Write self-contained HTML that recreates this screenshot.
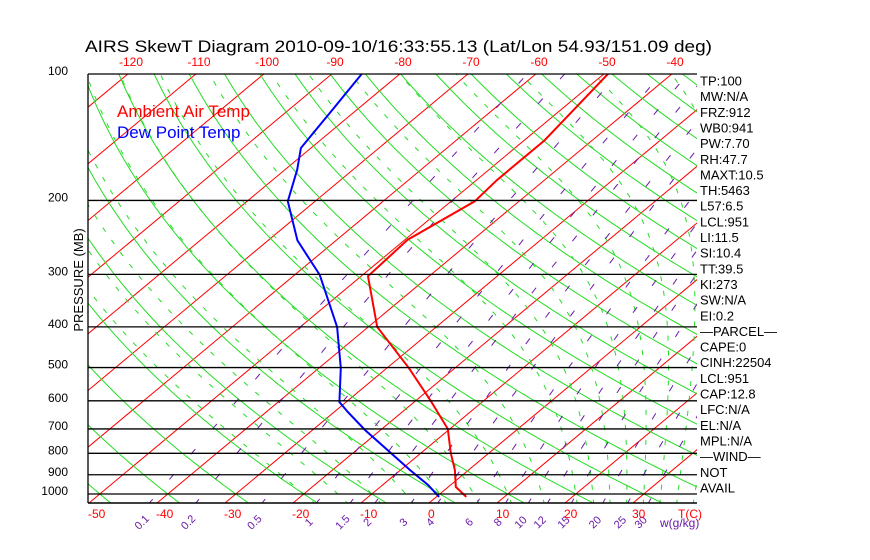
<!DOCTYPE html>
<html><head><meta charset="utf-8"><style>
html,body{margin:0;padding:0;background:#fff;}
svg{display:block;}
text{font-family:"Liberation Sans",sans-serif;}
</style></head><body>
<svg id="chart" width="870" height="560" viewBox="0 0 870 560" xmlns="http://www.w3.org/2000/svg">
<defs><clipPath id="plotclip"><rect x="88" y="74" width="609" height="429"/></clipPath></defs>
<text x="85" y="52" font-size="17" textLength="627" lengthAdjust="spacingAndGlyphs">AIRS SkewT Diagram 2010-09-10/16:33:55.13 (Lat/Lon 54.93/151.09 deg)</text>
<g id="bg" clip-path="url(#plotclip)"></g>
<g id="prof" clip-path="url(#plotclip)"></g>
<g id="axes"></g>
<text x="117" y="117" font-size="17" fill="#ff0000">Ambient Air Temp</text>
<text x="117" y="138" font-size="17" fill="#0000ff">Dew Point Temp</text>
<text transform="translate(83,280) rotate(-90)" text-anchor="middle" font-size="13">PRESSURE (MB)</text>
<g id="side"></g>
</svg>
<script>
const pressureLevels=[100,200,300,400,500,600,700,800,900,1000];
const bottomTempTicks=[-50,-40,-30,-20,-10,0,10,20,30];
const topTempTicks=[-120,-110,-100,-90,-80,-70,-60,-50,-40];
const mixingRatios=[0.1,0.2,0.5,1,1.5,2,3,4,6,8,10,12,15,20,25,30];
const mixingLabels=["0.1","0.2","0.5","1","1.5","2","3","4","6","8","10","12","15","20","25","30"];
const tempPressure=[1016,962,877,799,700,601,501,400,303,248,201,179,144,100];
const tempValues=[4.4,1.1,-2.0,-5.6,-10.3,-17.7,-26.8,-38.7,-49.0,-49.6,-46.5,-47.0,-47.0,-49.4];
const dewPressure=[1016,952,877,704,638,604,501,400,301,249,201,169,150,124,100];
const dewValues=[0.4,-3.3,-8.6,-22.3,-28.0,-31.0,-36.8,-44.6,-56.3,-65.7,-74.0,-78.2,-81.5,-83.4,-85.6];
const moistThetaW=[-20,-15,-10,-5,0,5,10,15,20,22.5,25,27.5,30,32.5,35,37.5,40];
const sideLabels=["TP:100","MW:N/A","FRZ:912","WB0:941","PW:7.70","RH:47.7","MAXT:10.5","TH:5463","L57:6.5","LCL:951","LI:11.5","SI:10.4","TT:39.5","KI:273","SW:N/A","EI:0.2","\u2014PARCEL\u2014","CAPE:0","CINH:22504","LCL:951","CAP:12.8","LFC:N/A","EL:N/A","MPL:N/A","\u2014WIND\u2014"," NOT","AVAIL"];

const NS="http://www.w3.org/2000/svg";
const X0=88,X1=697,Y0=74,Y1=503;
function yP(p){return 74+182.4*Math.log(p/100);}
function xTP(T,p){return 429+6.8*T+1.2*(503-yP(p));}
function mk(tag,attrs,parent){const e=document.createElementNS(NS,tag);for(const k in attrs)e.setAttribute(k,attrs[k]);parent.appendChild(e);return e;}
const bg=document.getElementById('bg'),prof=document.getElementById('prof'),axes=document.getElementById('axes'),side=document.getElementById('side');
const pList=[];for(let p=1060;p>=95;p-=5)pList.push(p);
function polyPts(fn){return pList.map(p=>xTP(fn(p),p).toFixed(1)+","+yP(p).toFixed(1)).join(" ");}

for(let T=-160;T<=50;T+=10){
  const l=mk('line',{x1:xTP(T,1060),y1:yP(1060),x2:xTP(T,95),y2:yP(95),stroke:'#ff0000','stroke-width':1},bg);
  
  
}
for(let th=-50;th<=200;th+=10){
  const pl=mk('polyline',{points:polyPts(p=>(th+273.15)*Math.pow(p/1000,0.2857)-273.15),fill:'none',stroke:'#22dd22','stroke-width':1},bg);
  
  
}
function es(T){return 6.112*Math.exp(17.67*T/(T+243.5));}
function moist(T0){
  const Rd=287,cp=1005,L=2.5e6,eps=0.622;
  function rate(T,p){const Tk=T+273.15;const rs=eps*es(T)/(p-es(T));return ((Rd*Tk+L*rs)/(cp+L*L*rs*eps/(Rd*Tk*Tk)))/p;}
  let T=T0;const down=[];
  for(let p=1000;p<1060;p+=2){T+=rate(T,p)*2;}
  down.push([1060,T]);
  T=T0;const up=[[1000,T0]];
  for(let p=1000;p>95;p-=2){T-=rate(T,p)*2;up.push([p-2,T]);}
  return down.concat(up);
}
moistThetaW.forEach(tw=>{
  const pts=moist(tw).map(a=>xTP(a[1],a[0]).toFixed(1)+","+yP(a[0]).toFixed(1)).join(" ");
  const pl=mk('polyline',{points:pts,fill:'none',stroke:'#22dd22','stroke-width':1,'stroke-dasharray':'5,10'},bg);
  
  
});
function Tw(w,p){const e=w*p/(622+w);const a=Math.log(e/6.112);return 243.5*a/(17.67-a);}
mixingRatios.forEach((w,i)=>{
  const pl=mk('polyline',{points:polyPts(p=>Tw(w,p)),fill:'none',stroke:'#6a1aa8','stroke-width':1,'stroke-dasharray':'7,26'},bg);
  
  
  const x=xTP(Tw(w,1050),1050)-8;
  const t=mk('text',{x:x,y:526,'font-size':11,fill:'#6a1aa8','text-anchor':'middle',transform:`rotate(-45 ${x} 522)`},axes);
  t.textContent=mixingLabels[i];
  
  
});
pressureLevels.forEach(p=>{
  const l=mk('line',{x1:X0,y1:yP(p),x2:X1,y2:yP(p),stroke:'#000','stroke-width':1.3},axes);
  
  
  const t=mk('text',{x:68,y:yP(p)+1,'font-size':12,'text-anchor':'end'},axes);
  t.textContent=String(p);
  
  
});
const bl=mk('line',{x1:X0,y1:Y1,x2:X1,y2:Y1,stroke:'#000','stroke-width':1.5},axes);


const ll=mk('line',{x1:X0,y1:Y0,x2:X0,y2:Y1,stroke:'#000','stroke-width':1.3},axes);


bottomTempTicks.forEach(T=>{
  const t=mk('text',{x:429+6.8*T-1,y:518,'font-size':12,fill:'#ff0000'},axes);
  t.textContent=String(T);
  
  
});
topTempTicks.forEach(T=>{
  const t=mk('text',{x:944+6.8*T+3,y:66,'font-size':12,fill:'#ff0000','text-anchor':'middle'},axes);
  t.textContent=String(T);
  
  
});
const tc=mk('text',{x:678,y:518,'font-size':12,fill:'#ff0000'},axes);
tc.textContent="T(C)";


const wg=mk('text',{x:660,y:527,'font-size':12,fill:'#6a1aa8'},axes);
wg.textContent="w(g/kg)";


function prof2pts(P,T){return P.map((p,i)=>xTP(T[i],p).toFixed(1)+","+yP(p).toFixed(1)).join(" ");}
const tl=mk('polyline',{points:prof2pts(tempPressure,tempValues),fill:'none',stroke:'#ff0000','stroke-width':2},prof);


const dl=mk('polyline',{points:prof2pts(dewPressure,dewValues),fill:'none',stroke:'#0000ff','stroke-width':2},prof);


sideLabels.forEach((s,i)=>{
  const t=mk('text',{x:700,y:85.5+i*15.65,'font-size':13,'xml:space':'preserve'},side);
  t.textContent=s;
  
  
});
</script>
</body></html>
